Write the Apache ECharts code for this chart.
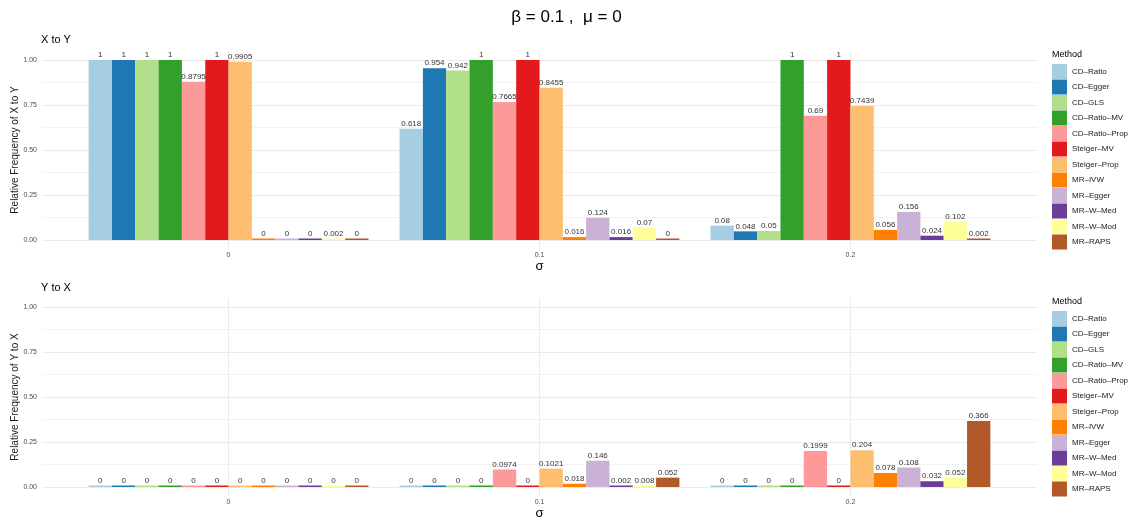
<!DOCTYPE html>
<html>
<head>
<meta charset="utf-8">
<script src="https://cdn.jsdelivr.net/npm/echarts@6/dist/echarts.min.js"></script>
<style>
  html, body { margin: 0; padding: 0; background: #fff; }
  #chart { width: 1133px; height: 523px; }
</style>
</head>
<body>
<div id="chart"></div>
<script>
// Methods compared, in legend order
const methods = ['CD–Ratio', 'CD–Egger', 'CD–GLS', 'CD–Ratio–MV', 'CD–Ratio–Prop', 'Steiger–MV',
  'Steiger–Prop', 'MR–IVW', 'MR–Egger', 'MR–W–Med', 'MR–W–Mod', 'MR–RAPS'];
const methodColors = ['#A6CEE3', '#1F78B4', '#B2DF8A', '#33A02C', '#FB9A99', '#E31A1C',
  '#FDBF6F', '#FF7F00', '#CAB2D6', '#6A3D9A', '#FFFF99', '#B15928'];

// Noise levels on the x axis
const sigmas = [0, 0.1, 0.2];

// Relative frequency of inferring X -> Y, one array per sigma (method order)
const xToYSigma0  = [1, 1, 1, 1, 0.8795, 1, 0.9905, 0, 0, 0, 0.002, 0];
const xToYSigma01 = [0.618, 0.954, 0.942, 1, 0.7665, 1, 0.8455, 0.016, 0.124, 0.016, 0.07, 0];
const xToYSigma02 = [0.08, 0.048, 0.05, 1, 0.69, 1, 0.7439, 0.056, 0.156, 0.024, 0.102, 0.002];

// Relative frequency of inferring Y -> X
const yToXSigma0  = [0, 0, 0, 0, 0, 0, 0, 0, 0, 0, 0, 0];
const yToXSigma01 = [0, 0, 0, 0, 0.0974, 0, 0.1021, 0.018, 0.146, 0.002, 0.008, 0.052];
const yToXSigma02 = [0, 0, 0, 0, 0.1999, 0, 0.204, 0.078, 0.108, 0.032, 0.052, 0.366];

const yTicks = [0, 0.25, 0.5, 0.75, 1];
const yMinorTicks = [0.125, 0.375, 0.625, 0.875];

const FONT = 'Liberation Sans';
const GRID_COLOR = '#EBEBEB';

function buildSeries(panel, perSigma) {
  return methods.map((m, i) => ({
    name: m,
    type: 'bar',
    xAxisIndex: panel,
    yAxisIndex: panel * 2,
    barGap: '0%',
    barCategoryGap: '10%',
    barMinHeight: 1.5,
    itemStyle: { color: methodColors[i] },
    label: {
      show: true,
      position: 'top',
      distance: 1,
      fontFamily: FONT,
      fontSize: 8,
      color: '#333',
      formatter: p => String(p.value[1])
    },
    data: sigmas.map((s, k) => [s, perSigma[k][i]])
  }));
}

function xAxis(gridIndex) {
  return {
    type: 'value', gridIndex, min: -0.06, max: 0.26,
    name: 'σ', nameLocation: 'middle', nameGap: 11, nameMoveOverlap: false,
    nameTextStyle: { fontFamily: FONT, fontSize: 13, color: '#000' },
    axisLine: { show: false },
    axisTick: { show: false, customValues: sigmas },
    axisLabel: { customValues: sigmas, margin: 3, fontFamily: FONT, fontSize: 7, color: '#4D4D4D',
      formatter: v => String(v) },
    splitLine: { show: true, lineStyle: { color: GRID_COLOR, width: 1 } }
  };
}

function yAxes(gridIndex, title) {
  return [{
    type: 'value', gridIndex, min: -0.05, max: 1.05,
    name: title, nameLocation: 'middle', nameGap: 22, nameMoveOverlap: false,
    nameTextStyle: { fontFamily: FONT, fontSize: 10, color: '#1a1a1a' },
    axisLine: { show: false },
    axisTick: { show: false, customValues: yTicks },
    axisLabel: { customValues: yTicks, margin: 5, fontFamily: FONT, fontSize: 7, color: '#4D4D4D',
      formatter: v => v.toFixed(2) },
    splitLine: { show: true, lineStyle: { color: GRID_COLOR, width: 1 } }
  }, {
    type: 'value', gridIndex, min: -0.05, max: 1.05, position: 'left',
    axisLine: { show: false },
    axisTick: { show: false, customValues: yMinorTicks },
    axisLabel: { show: false, customValues: yMinorTicks },
    splitLine: { show: true, lineStyle: { color: '#F0F0F0', width: 0.8 } }
  }];
}

function legend(top) {
  return {
    data: methods, orient: 'vertical', left: 1052, top, padding: 0,
    icon: 'rect', itemWidth: 15, itemHeight: 15, itemGap: 0.5,
    selectedMode: false,
    textStyle: { fontFamily: FONT, fontSize: 8, color: '#1a1a1a' }
  };
}

function label(text, left, top, size) {
  return { text, left, top, padding: 0,
    textStyle: { fontFamily: FONT, fontSize: size, fontWeight: 'normal', color: '#000' } };
}

const chart = echarts.init(document.getElementById('chart'), null, { renderer: 'canvas' });
chart.setOption({
  backgroundColor: '#fff',
  animation: false,
  title: [
    { text: 'β = 0.1 ,  μ = 0', left: 'center', top: 9, padding: 0,
      textStyle: { fontFamily: FONT, fontSize: 17, fontWeight: 'normal', color: '#000' } },
    label('X to Y', 41, 34, 11),
    label('Y to X', 41, 282, 11),
    label('Method', 1052, 50, 9),
    label('Method', 1052, 297, 9)
  ],
  legend: [legend(64), legend(311)],
  grid: [
    { left: 42, right: 96, top: 51, height: 198, outerBoundsMode: 'none' },
    { left: 42, right: 96, top: 298, height: 198, outerBoundsMode: 'none' }
  ],
  xAxis: [xAxis(0), xAxis(1)],
  yAxis: [...yAxes(0, 'Relative Frequency of X to Y'), ...yAxes(1, 'Relative Frequency of Y to X')],
  series: [
    ...buildSeries(0, [xToYSigma0, xToYSigma01, xToYSigma02]),
    ...buildSeries(1, [yToXSigma0, yToXSigma01, yToXSigma02])
  ]
});
</script>
</body>
</html>
